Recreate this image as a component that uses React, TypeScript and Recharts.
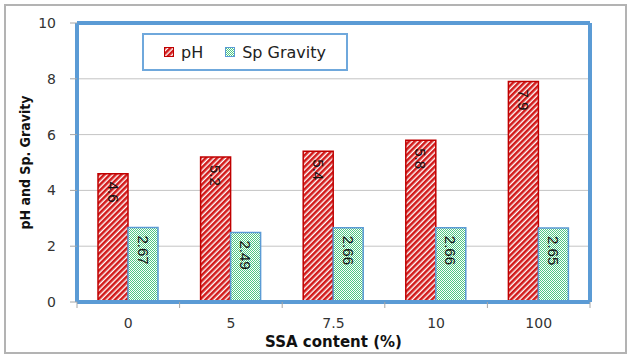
import { BarChart, Bar, XAxis, YAxis, CartesianGrid, Legend, LabelList } from 'recharts';

// SSA content categories and measured values
const ssaContent = ['0', '5', '7.5', '10', '100'];
const phValues = [4.6, 5.2, 5.4, 5.8, 7.9];
const spGravity = [2.67, 2.49, 2.66, 2.66, 2.65];
const yTicks = [0, 2, 4, 6, 8, 10];

const chartData = ssaContent.map((cat, i) => ({
  cat,
  ph: phValues[i],
  sg: spGravity[i],
}));

const FRAME = '#5B9BD5';
const TICK_FONT = '"DejaVu Sans", Verdana, sans-serif';

function BarValue(props: any) {
  const { x, y, width, value } = props;
  const cx = x + width / 2;
  const cy = y + 8;
  return (
    <text
      x={cx}
      y={cy}
      transform={`rotate(90 ${cx} ${cy})`}
      textAnchor="start"
      dominantBaseline="central"
      fontSize={15}
      fontFamily='"Liberation Sans Narrow", "Liberation Sans", Arial, sans-serif'
      fill="#111"
    >
      {value}
    </text>
  );
}

function CatTick(props: any) {
  const { x, y, payload, index } = props;
  const off = payload.offset || 0;
  const axisY = y - 16;
  return (
    <g>
      <line x1={x - off} x2={x - off} y1={axisY} y2={axisY + 6} stroke="#a6a6a6" />
      {index === ssaContent.length - 1 && (
        <line x1={x + off} x2={x + off} y1={axisY} y2={axisY + 6} stroke="#a6a6a6" />
      )}
      <text x={x} y={y} dy="0.71em" textAnchor="middle" fontSize={14} fontFamily={TICK_FONT} fill="#333">
        {payload.value}
      </text>
    </g>
  );
}

function Swatch({ id, stroke }: { id: string; stroke: string }) {
  return (
    <svg width={10} height={10} style={{ marginRight: 7 }}>
      <rect x={0.5} y={0.5} width={9} height={9} fill={`url(#${id})`} stroke={stroke} />
    </svg>
  );
}

function LegendBox() {
  return (
    <div
      style={{
        boxSizing: 'border-box',
        width: 206,
        height: 38,
        border: '2px solid #6FA8DC',
        background: '#fff',
        display: 'flex',
        alignItems: 'center',
        paddingLeft: 20,
        fontFamily: TICK_FONT,
        fontSize: 16,
        color: '#222',
      }}
    >
      <span style={{ display: 'flex', alignItems: 'center', marginRight: 22 }}>
        <Swatch id="phHatch" stroke="#C00000" />
        pH
      </span>
      <span style={{ display: 'flex', alignItems: 'center' }}>
        <Swatch id="sgDots" stroke={FRAME} />
        Sp Gravity
      </span>
    </div>
  );
}

function YTitle(props: any) {
  const { viewBox } = props;
  const x = viewBox.x + 15;
  const y = viewBox.y + viewBox.height / 2;
  return (
    <text
      x={x}
      y={y}
      transform={`rotate(-90 ${x} ${y})`}
      textAnchor="middle"
      dominantBaseline="central"
      fontSize={14}
      fontWeight="bold"
      fontFamily='"Liberation Sans Narrow", "DejaVu Sans Condensed", sans-serif'
      fill="#111"
    >
      pH and Sp. Gravity
    </text>
  );
}

export default function App() {
  return (
    <div style={{ position: 'absolute', left: 0, top: 0, width: 630, height: 359, background: '#fff' }}>
      <div
        style={{
          position: 'absolute',
          left: 4,
          top: 4,
          width: 623,
          height: 350,
          boxSizing: 'border-box',
          border: '2px solid #b3b3b3',
        }}
      />
      <BarChart
        width={630}
        height={359}
        data={chartData}
        margin={{ top: 22, right: 39, bottom: 0, left: 10 }}
        barSize={30}
        barGap={0}
      >
        <defs>
          <pattern id="phHatch" width={4} height={4} patternUnits="userSpaceOnUse" patternTransform="rotate(45)">
            <rect width={4} height={4} fill="#fff" />
            <rect width={2.6} height={4} fill="#D21A1A" />
          </pattern>
          <pattern id="sgDots" width={2} height={2} patternUnits="userSpaceOnUse">
            <rect width={2} height={2} fill="#fff" />
            <rect width={1} height={1} fill="#4FC783" />
            <rect x={1} y={1} width={1} height={1} fill="#4FC783" />
          </pattern>
        </defs>
        <CartesianGrid vertical={false} stroke="#c4c4c4" />
        <XAxis
          dataKey="cat"
          xAxisId="top"
          orientation="top"
          height={1}
          tick={false}
          tickLine={false}
          axisLine={{ stroke: FRAME, strokeWidth: 4 }}
        />
        <XAxis
          dataKey="cat"
          height={57}
          tickSize={6}
          tickMargin={10}
          tickLine={{ stroke: 'none' }}
          tick={<CatTick />}
          axisLine={{ stroke: FRAME, strokeWidth: 4 }}
          label={{
            value: 'SSA content (%)',
            position: 'insideBottom',
            offset: 12,
            fontSize: 15,
            fontWeight: 'bold',
            fontFamily: TICK_FONT,
            fill: '#111',
          }}
        />
        <YAxis
          domain={[0, 10]}
          ticks={yTicks}
          width={67}
          tickSize={7}
          tickMargin={14}
          tickLine={{ stroke: '#a6a6a6' }}
          axisLine={{ stroke: FRAME, strokeWidth: 4 }}
          tick={{ fontSize: 14, fontFamily: TICK_FONT, fill: '#333' }}
          label={<YTitle />}
        />
        <YAxis
          yAxisId="right"
          orientation="right"
          domain={[0, 10]}
          width={1}
          tick={false}
          tickLine={false}
          axisLine={{ stroke: FRAME, strokeWidth: 4 }}
        />
        <Legend
          layout="vertical"
          align="center"
          verticalAlign="middle"
          content={<LegendBox />}
          wrapperStyle={{ left: 142, top: 33, width: 206 }}
        />
        <Bar dataKey="ph" name="pH" fill="url(#phHatch)" stroke="#C00000" strokeWidth={1.5} isAnimationActive={false}>
          <LabelList dataKey="ph" content={<BarValue />} />
        </Bar>
        <Bar dataKey="sg" name="Sp Gravity" fill="url(#sgDots)" stroke={FRAME} strokeWidth={1.5} isAnimationActive={false}>
          <LabelList dataKey="sg" content={<BarValue />} />
        </Bar>
      </BarChart>
    </div>
  );
}
